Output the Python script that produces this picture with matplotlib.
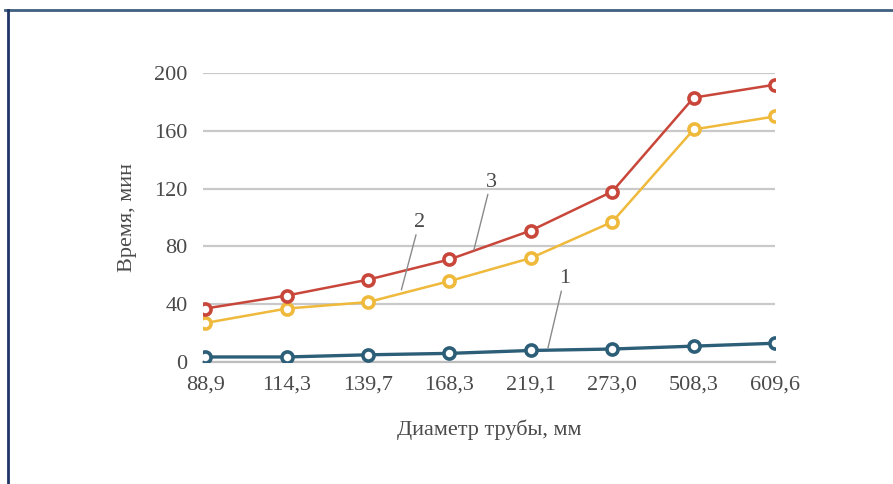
import matplotlib
matplotlib.use("Agg")
import matplotlib.pyplot as plt
from matplotlib.lines import Line2D

# Pipe diameters (mm) and filling time (min) for three cases
diameters = ["88,9", "114,3", "139,7", "168,3", "219,1", "273,0", "508,3", "609,6"]
series_1 = [3.5, 3.5, 5, 6, 8, 9, 11, 13]
series_2 = [27, 37, 41.5, 56, 72, 97, 161, 170]
series_3 = [37, 46, 57, 71, 91, 118, 183, 192]
y_ticks = [0, 40, 80, 120, 160, 200]

plt.rcParams["font.family"] = ["Liberation Serif", "DejaVu Serif"]
TEXT = "#4a4a4a"
FS = 16

fig = plt.figure(figsize=(8.93, 4.84), dpi=100)
ax = fig.add_axes([0.227, 0.252, 0.641, 0.597])

x = list(range(len(diameters)))
styles = [
    (series_1, "#2d5e78", 2.4),
    (series_2, "#efb93c", 1.8),
    (series_3, "#c8463a", 1.8),
]
for values, color, lw in styles:
    ax.plot(x, values, color=color, lw=lw, marker="o", markersize=8,
            markerfacecolor="white", markeredgecolor=color, markeredgewidth=2.6,
            zorder=3)

ax.set_xlim(-0.03, 7.0)
ax.set_ylim(0, 200)
ax.set_yticks(y_ticks)
ax.set_xticks(x)
ax.set_xticklabels(diameters)
ax.tick_params(axis="both", length=0, labelsize=FS, colors=TEXT)
ax.tick_params(axis="x", pad=10)
ax.tick_params(axis="y", pad=11)
ax.grid(axis="y", color="#c9c9c9", lw=1.6)
ax.set_axisbelow(True)
for side in ["top", "right", "left"]:
    ax.spines[side].set_visible(False)
ax.spines["bottom"].set_color("#bdbdbd")
ax.spines["bottom"].set_linewidth(1.6)

ax.set_ylabel("Время, мин", fontsize=FS, color=TEXT, labelpad=12)
ax.set_xlabel("Диаметр трубы, мм", fontsize=FS, color=TEXT, labelpad=18)

# Curve numbers with leader lines
labels = [
    ("1", (4.21, 9.7), (4.41, 51)),
    ("2", (2.41, 50), (2.63, 90)),
    ("3", (3.30, 77.5), (3.51, 118)),
]
for text, tip, pos in labels:
    ax.annotate(text, xy=tip, xytext=pos, fontsize=FS, color=TEXT,
                ha="center", va="bottom",
                arrowprops=dict(arrowstyle="-", color="#8a8a8a", lw=1.0,
                                shrinkA=0, shrinkB=0))

# Frame lines along the top and left edges
fig.add_artist(Line2D([0.006, 1.0], [0.980, 0.980], color="#3f5f80", lw=2.0))
fig.add_artist(Line2D([0.009, 0.009], [0.0, 0.980], color="#1f3566", lw=2.0))

fig.savefig("out.png", dpi=100, facecolor="white")
